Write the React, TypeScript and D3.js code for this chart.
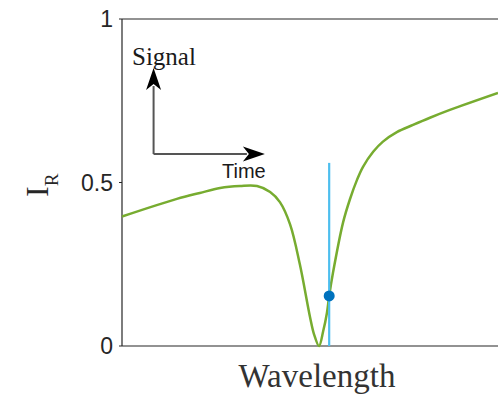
import React from "react";
import * as d3 from "d3";

// reflectance spectrum (wavelength in arbitrary units)
const wavelength = [0, 14.6, 20.7, 26.1, 31.4, 35.9, 39.4, 42.0, 44.7, 47.3, 50.0, 51.1, 52.4, 53.5, 54.5, 55.1, 56.1, 58.8, 60.6, 62.5, 64.1, 66.8, 69.4, 73.1, 77.4, 81.9, 87.2, 100];
const reflectance = [0.396, 0.45, 0.468, 0.483, 0.489, 0.489, 0.471, 0.44, 0.372, 0.25, 0.089, 0.035, 0.0, 0.045, 0.101, 0.153, 0.223, 0.378, 0.448, 0.508, 0.548, 0.594, 0.625, 0.654, 0.676, 0.698, 0.722, 0.774];

const probeX = 55.1;
const probeY = 0.153;
const probeTop = 0.56;

const yTicks = [0, 0.5, 1];
const yTickLabels = ["0", "0.5", "1"];

// inset "signal vs time" sketch, in data units
const insetOrigin = [8.4, 0.587];
const insetYEnd = 0.85;
const insetXEnd = 38.0;

const W = 498;
const H = 397;
const margin = { left: 122, right: 0, top: 19, bottom: 51 };

function arrowHead(tx: number, ty: number, dir: "up" | "right") {
  // MATLAB style head with a notched back
  const len = 22, half = 7.5, notch = 6;
  if (dir === "up") {
    return `M${tx},${ty} L${tx + half},${ty + len} L${tx},${ty + len - notch} L${tx - half},${ty + len} Z`;
  }
  return `M${tx},${ty} L${tx - len},${ty - half} L${tx - len + notch},${ty} L${tx - len},${ty + half} Z`;
}

export default function App() {
  const x = d3.scaleLinear().domain([0, 100]).range([margin.left, W - margin.right]);
  const y = d3.scaleLinear().domain([0, 1]).range([H - margin.bottom, margin.top]);

  const pts = wavelength.map((w, i) => [w, reflectance[i]] as [number, number]);
  const line = d3
    .line<[number, number]>()
    .x((d) => x(d[0]))
    .y((d) => y(d[1]))
    .curve(d3.curveCatmullRom.alpha(0.5));

  const ox = x(insetOrigin[0]);
  const oy = y(insetOrigin[1]);
  const axisColor = "#262626";

  return (
    <svg width={W} height={H} style={{ position: "absolute", left: 0, top: 0, background: "#fff" }}>
      {/* box lines */}
      <line x1={x(0)} x2={W} y1={y(1)} y2={y(1)} stroke={axisColor} strokeWidth={1.2} />
      <line x1={x(0)} x2={W} y1={y(0)} y2={y(0)} stroke={axisColor} strokeWidth={1.2} />
      <line x1={x(0)} x2={x(0)} y1={y(0)} y2={y(1)} stroke={axisColor} strokeWidth={1.2} />

      {yTicks.map((t, i) => (
        <g key={t}>
          <line x1={x(0) - 3} x2={x(0)} y1={y(t)} y2={y(t)} stroke={axisColor} strokeWidth={1} />
          <text
            x={x(0) - 9}
            y={y(t)}
            textAnchor="end"
            dominantBaseline="central"
            fontFamily="Liberation Sans, Arial, sans-serif"
            fontSize={23}
            fill="#262626"
          >
            {yTickLabels[i]}
          </text>
        </g>
      ))}

      {/* y label */}
      <text
        transform={`translate(48,197) rotate(-90)`}
        fontFamily="Liberation Serif, serif"
        fontSize={32}
        fill="#262626"
      >
        I
        <tspan fontSize={19} dy={10}>R</tspan>
      </text>

      {/* x label */}
      <text
        x={317}
        y={387}
        textAnchor="middle"
        fontFamily="Liberation Serif, serif"
        fontSize={33}
        fill="#333"
      >
        Wavelength
      </text>

      {/* spectrum */}
      <path d={line(pts) ?? ""} fill="none" stroke="#77AC30" strokeWidth={2.5} />

      {/* probe wavelength */}
      <line x1={x(probeX)} x2={x(probeX)} y1={y(0)} y2={y(probeTop)} stroke="#4DBEEE" strokeWidth={2.2} />
      <circle cx={x(probeX)} cy={y(probeY)} r={5.5} fill="#0072BD" />

      {/* inset axes */}
      <line x1={ox} x2={ox} y1={oy} y2={y(insetYEnd) + 18} stroke="#555" strokeWidth={2} />
      <line x1={ox} x2={x(insetXEnd) - 18} y1={oy} y2={oy} stroke="#555" strokeWidth={2} />
      <path d={arrowHead(ox, y(insetYEnd), "up")} fill="#000" />
      <path d={arrowHead(x(insetXEnd), oy, "right")} fill="#000" />
      <text x={132} y={65} fontFamily="Liberation Serif, serif" fontSize={25} fill="#1a1a1a">
        Signal
      </text>
      <text x={222} y={178} fontFamily="Liberation Sans, Arial, sans-serif" fontSize={20} fill="#1a1a1a">
        Time
      </text>
    </svg>
  );
}
